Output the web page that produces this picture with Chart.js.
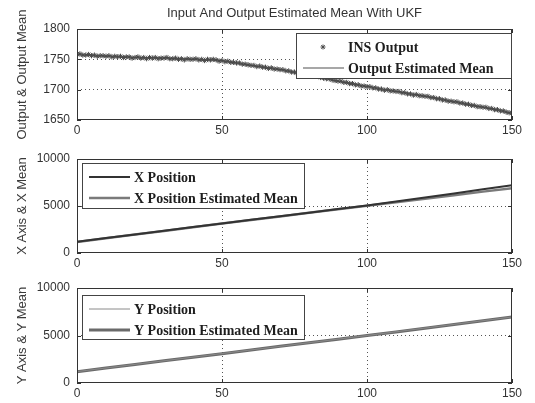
<!DOCTYPE html>
<html>
<head>
<meta charset="utf-8">
<script src="https://cdn.jsdelivr.net/npm/chart.js@4.4.1/dist/chart.umd.min.js"></script>
<style>
  html, body { margin: 0; padding: 0; background: #fff; }
  #wrap { position: relative; width: 535px; height: 403px; overflow: hidden; }
  canvas { position: absolute; left: 0; }
</style>
</head>
<body>
<div id="wrap">
  <canvas id="c1" width="535" height="140" style="top:0px"></canvas>
  <canvas id="c2" width="535" height="133" style="top:140px"></canvas>
  <canvas id="c3" width="535" height="135" style="top:268px"></canvas>
</div>
<script>
// ---- data ----
const timeSteps = Array.from({length: 151}, (_, i) => i);          // 0..150, one sample per step
const insOutput = [
  1758,1759,1757,1757,1758,1756,1757,1755,1756,1756,1755,
  1756,1754,1755,1754,1755,1753,1754,1754,1752,1753,
  1754,1752,1753,1751,1753,1752,1753,1751,1752,1752,
  1753,1751,1751,1752,1750,1751,1749,1751,1750,1750,
  1751,1749,1750,1748,1750,1749,1750,1749,
  1747,1748,1746,1747,1745,1745,1744,
  1744,1742,1742,1741,1740,
  1740,1738,1739,1737,1737,1735,1736,1734,1734,1733,
  1733,1731,1731,1729,1729,1727,1727,1725,1726,1724,
  1724,1722,1722,1720,1719,1718,1718,1716,1715,1714,
  1714,1712,1712,1710,1710,1708,1708,1706,1706,1705,
  1705,1703,1703,1701,1701,1699,1700,1698,1698,1697,
  1697,1695,1695,1693,1693,1691,1692,1690,1690,1689,
  1689,1687,1687,1685,1685,1683,1683,1681,1681,1680,
  1680,1678,1678,1676,1676,1674,1674,1672,1672,1671,
  1671,1669,1669,1667,1667,1665,1665,1663,1662,1661
];
const coarseSteps = [0,10,20,30,40,50,60,70,80,90,100,110,120,130,140,150];
const outputMean = [1758,1755,1753,1752,1750,1748,1740,1733,1724,1714,1705,1697,1689,1680,1671,1661];
const xPosition  = [1200,1590,1980,2370,2760,3150,3530,3910,4290,4670,5050,5480,5910,6340,6770,7200];
const xMean      = [1180,1570,1960,2350,2740,3130,3510,3890,4270,4650,5020,5400,5780,6150,6530,6900];
const yPosition  = [1200,1580,1960,2340,2720,3100,3480,3860,4240,4620,5000,5390,5780,6170,6560,6950];
const yMean      = [1180,1570,1950,2340,2720,3090,3470,3860,4240,4610,4990,5380,5770,6160,6550,6940];

const xTicks  = [0, 50, 100, 150];
const y1Ticks = [1650, 1700, 1750, 1800];
const y2Ticks = [0, 5000, 10000];

const titleText = 'Input And Output Estimated Mean With UKF';
const yTitles = ['Output & Output Mean', 'X Axis & X Mean', 'Y Axis & Y Mean'];

const pairs = (xs, ys) => xs.map((x, i) => ({x, y: ys[i]}));

// ---- shared styling ----
const SANS = '"Liberation Sans", Arial, sans-serif';
const SERIF = '"Liberation Serif", "Times New Roman", serif';
const INK = '#333333';

function drawStar(ctx, x, y, r, color) {
  ctx.save();
  ctx.strokeStyle = color; ctx.lineWidth = 1;
  ctx.beginPath();
  for (let k = 0; k < 4; k++) {
    const a = k * Math.PI / 4;
    ctx.moveTo(x - r * Math.cos(a), y - r * Math.sin(a));
    ctx.lineTo(x + r * Math.cos(a), y + r * Math.sin(a));
  }
  ctx.stroke();
  ctx.restore();
}

// Axes box with inward tick marks (drawn above the data)
const boxPlugin = {
  id: 'axisBox',
  afterDatasetsDraw(chart) {
    const {ctx, chartArea: a, scales} = chart;
    ctx.save();
    ctx.setLineDash([]);
    ctx.strokeStyle = '#333';
    ctx.lineWidth = 1;
    ctx.strokeRect(a.left + 0.5, a.top + 0.5, a.right - a.left - 1, a.bottom - a.top - 1);
    const t = 4;
    ctx.beginPath();
    scales.x.ticks.forEach(tk => {
      const px = Math.round(scales.x.getPixelForValue(tk.value)) + 0.5;
      ctx.moveTo(px, a.bottom); ctx.lineTo(px, a.bottom - t);
      ctx.moveTo(px, a.top); ctx.lineTo(px, a.top + t);
    });
    scales.y.ticks.forEach(tk => {
      const py = Math.round(scales.y.getPixelForValue(tk.value)) + 0.5;
      ctx.moveTo(a.left, py); ctx.lineTo(a.left + t, py);
      ctx.moveTo(a.right, py); ctx.lineTo(a.right - t, py);
    });
    ctx.stroke();
    ctx.restore();
  }
};

// Boxed legend placed inside the plot area
const innerLegend = {
  id: 'innerLegend',
  afterDraw(chart, args, opts) {
    const {ctx, chartArea: a} = chart;
    const w = opts.width, h = opts.height;
    const left = opts.alignRight ? a.right - w : a.left + opts.dx;
    const top = a.top + opts.dy;
    ctx.save();
    ctx.setLineDash([]);
    ctx.fillStyle = '#fff';
    ctx.fillRect(left, top, w, h);
    ctx.strokeStyle = '#444';
    ctx.lineWidth = 1;
    ctx.strokeRect(left + 0.5, top + 0.5, w - 1, h - 1);
    ctx.font = 'bold 14px ' + SERIF;
    ctx.fillStyle = '#1e1e1e';
    ctx.textBaseline = 'middle';
    ctx.textAlign = 'left';
    chart.data.datasets.forEach((ds, i) => {
      const y = top + opts.rows[i];
      if (ds.showLine === false) {
        drawStar(ctx, left + 27, y, 2.5, ds.borderColor);
      } else {
        ctx.strokeStyle = ds.borderColor;
        ctx.lineWidth = ds.borderWidth;
        ctx.beginPath();
        ctx.moveTo(left + 7, y); ctx.lineTo(left + 48, y);
        ctx.stroke();
      }
      ctx.fillText(ds.label, left + 52, y + 1);
    });
    ctx.restore();
  }
};

// Figure title
const figTitle = {
  id: 'figTitle',
  afterDraw(chart, args, opts) {
    if (!opts.text) return;
    const {ctx, chartArea: a} = chart;
    ctx.save();
    ctx.font = '13px ' + SANS;
    ctx.fillStyle = INK;
    ctx.textAlign = 'center';
    ctx.textBaseline = 'middle';
    ctx.fillText(opts.text, (a.left + a.right) / 2, 13);
    ctx.restore();
  }
};

function hideEnds(ctx) {
  const n = ctx.scale.ticks.length;
  return (ctx.index === 0 || ctx.index === n - 1) ? 'rgba(0,0,0,0)' : '#555';
}

function makeOptions(cfg) {
  return {
    responsive: false,
    animation: false,
    devicePixelRatio: 1,
    layout: { padding: { left: 0, right: 23, top: cfg.padTop, bottom: 0 } },
    plugins: {
      legend: { display: false },
      tooltip: { enabled: false },
      title: { display: false },
      innerLegend: cfg.legend,
      figTitle: { text: cfg.title || '' }
    },
    scales: {
      x: {
        type: 'linear', min: 0, max: 150,
        afterBuildTicks: s => { s.ticks = xTicks.map(v => ({value: v})); },
        afterFit: s => { s.height = 20; },
        ticks: { color: INK, font: { family: SANS, size: 12 }, padding: 3, maxRotation: 0,
                 callback: v => String(v) },
        grid: { color: hideEnds, lineWidth: 1, drawTicks: false },
        border: { display: false, dash: [1, 3] }
      },
      y: {
        type: 'linear', min: cfg.yMin, max: cfg.yMax,
        afterBuildTicks: s => { s.ticks = cfg.yTicks.map(v => ({value: v})); },
        afterFit: s => { s.width = 77; },
        ticks: { color: INK, font: { family: SANS, size: 12 }, padding: 7,
                 callback: v => String(v) },
        grid: { color: hideEnds, lineWidth: 1, drawTicks: false },
        border: { display: false, dash: [1, 3] },
        title: {
          display: true, text: cfg.yTitle, color: '#3a3a3a',
          font: { family: SANS, size: 13 }, padding: { top: 15, bottom: 0 }
        }
      }
    }
  };
}

const plugins = [boxPlugin, innerLegend, figTitle];

// Top: INS output samples and the estimated output mean
new Chart(document.getElementById('c1'), {
  type: 'line',
  data: {
    datasets: [
      { label: 'INS Output', data: pairs(timeSteps, insOutput), showLine: false,
        pointStyle: 'star', pointRadius: 2.6, pointBorderWidth: 1,
        borderColor: '#4a4a4a', backgroundColor: '#4a4a4a' },
      { label: 'Output Estimated Mean', data: pairs(coarseSteps, outputMean),
        borderColor: '#8a8a8a', borderWidth: 1.5, pointRadius: 0, tension: 0 }
    ]
  },
  options: makeOptions({
    padTop: 29, yMin: 1650, yMax: 1800, yTicks: y1Ticks, yTitle: yTitles[0], title: titleText,
    legend: { alignRight: true, dx: 0, dy: 4, width: 216, height: 46, rows: [14, 35] }
  }),
  plugins
});

// Middle: X position and its estimated mean
new Chart(document.getElementById('c2'), {
  type: 'line',
  data: {
    datasets: [
      { label: 'X Position', data: pairs(coarseSteps, xPosition),
        borderColor: '#333333', borderWidth: 2, pointRadius: 0, tension: 0 },
      { label: 'X Position Estimated Mean', data: pairs(coarseSteps, xMean),
        borderColor: '#7a7a7a', borderWidth: 2.5, pointRadius: 0, tension: 0 }
    ]
  },
  options: makeOptions({
    padTop: 19, yMin: 0, yMax: 10000, yTicks: y2Ticks, yTitle: yTitles[1],
    legend: { alignRight: false, dx: 5, dy: 4, width: 223, height: 46, rows: [14, 35] }
  }),
  plugins
});

// Bottom: Y position and its estimated mean
new Chart(document.getElementById('c3'), {
  type: 'line',
  data: {
    datasets: [
      { label: 'Y Position', data: pairs(coarseSteps, yPosition),
        borderColor: '#8a8a8a', borderWidth: 1, pointRadius: 0, tension: 0 },
      { label: 'Y Position Estimated Mean', data: pairs(coarseSteps, yMean),
        borderColor: '#6a6a6a', borderWidth: 3, pointRadius: 0, tension: 0 }
    ]
  },
  options: makeOptions({
    padTop: 20, yMin: 0, yMax: 10000, yTicks: y2Ticks, yTitle: yTitles[2],
    legend: { alignRight: false, dx: 5, dy: 7, width: 223, height: 45, rows: [14, 35] }
  }),
  plugins
});
</script>
</body>
</html>
